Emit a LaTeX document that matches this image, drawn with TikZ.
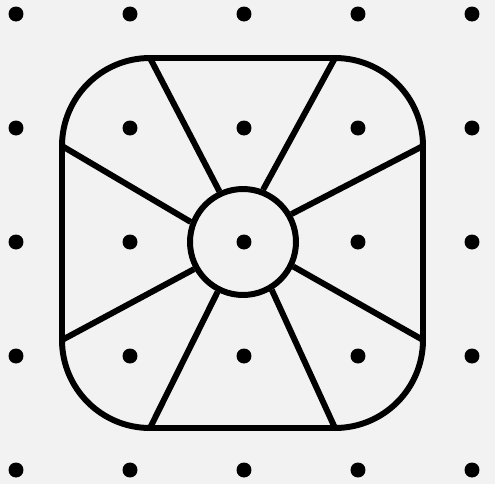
\documentclass[tikz,border=0pt]{standalone}
\usetikzlibrary{calc}
\definecolor{paper}{gray}{0.95}
\tikzset{
  rim/.style={line width=3.4pt, black},
  spoke/.style={line width=3.4pt, black},
  pin/.style={circle, fill=black, inner sep=0pt, minimum size=0.3cm},
  hub/.style={circle, draw=black, line width=3.4pt, inner sep=0pt, minimum size=2.12cm}
}

\begin{document}
\begin{tikzpicture}[x=0.02cm,y=-0.02cm]
  \def\crad{88}
  \fill[paper] (0,0) rectangle (495,484);
  \useasboundingbox (0,0) rectangle (495,484);

  % grid of pins
  \foreach \i in {0,...,4}
    \foreach \j in {0,...,4}
      \node[pin] (pin-\i-\j) at ({16+114*\i},{14+114*\j}) {};

  % outer frame
  \draw[rim, rounded corners=1.76cm] (62,58) rectangle (423,428);

  \coordinate (TL) at ({62+\crad},58);
  \coordinate (TR) at ({423-\crad},58);
  \coordinate (LT) at (62,{58+\crad});
  \coordinate (LB) at (62,{428-\crad});
  \coordinate (RT) at (423,{58+\crad});
  \coordinate (RB) at (423,{428-\crad});
  \coordinate (BL) at ({62+\crad},428);
  \coordinate (BR) at ({423-\crad},428);

  \node[hub] (hub) at (243,242) {};

  % spokes
  \foreach \p/\a in {TL/115, TR/69, LT/159, RT/30, LB/209, RB/334, BL/243, BR/301}
    \draw[spoke] (\p) -- (hub.\a);
\end{tikzpicture}
\end{document}
